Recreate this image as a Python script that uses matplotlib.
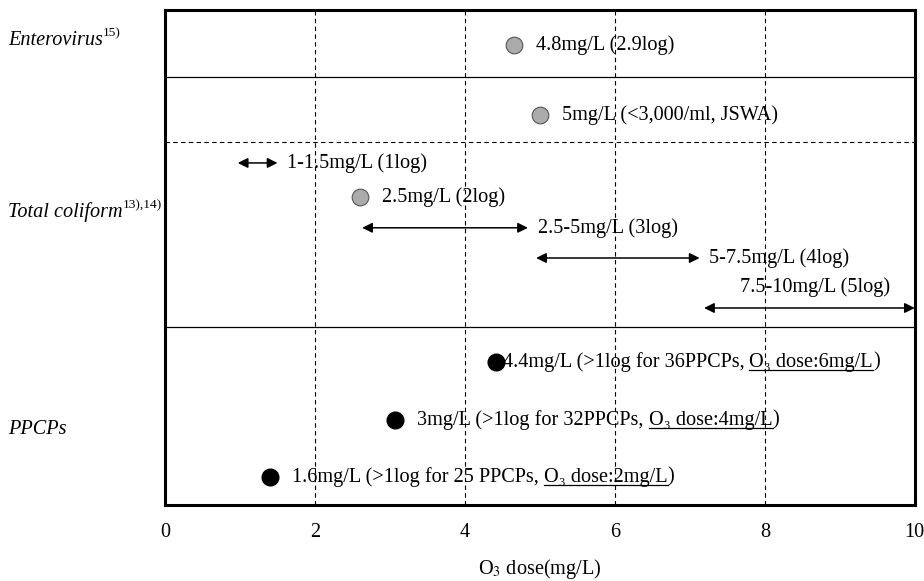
import matplotlib.pyplot as plt
import matplotlib.lines as mlines

plt.rcParams['font.family'] = ['Liberation Serif', 'DejaVu Serif']
plt.rcParams['mathtext.fontset'] = 'stix'

# dose points (x in mg/L, y = row position 0..100 from bottom)
grey_x = [4.65, 5.0, 2.6]
grey_y = [92.9, 78.8, 62.2]
grey_txt = ["4.8mg/L (2.9log)", "5mg/L (<3,000/ml, JSWA)", "2.5mg/L (2log)"]

rng_lo = [0.97, 2.63, 4.95, 7.19]
rng_hi = [1.5, 4.84, 7.13, 10.0]
rng_y = [69.1, 56.0, 49.9, 39.8]
rng_txt = ["1-1.5mg/L (1log)", "2.5-5mg/L (3log)", "5-7.5mg/L (4log)", "7.5-10mg/L (5log)"]

ppcp_x = [4.41, 3.07, 1.4]
ppcp_y = [28.9, 17.2, 5.7]
ppcp_pre = ["4.4mg/L (>1log for 36PPCPs, ", "3mg/L (>1log for 32PPCPs, ", "1.6mg/L (>1log for 25 PPCPs, "]
ppcp_ul = ["O\u2083 dose:6mg/L", "O\u2083 dose:4mg/L", "O\u2083 dose:2mg/L"]

cat_names = ["Enterovirus", "Total coliform", "PPCPs"]
cat_refs = ["15)", "13),14)", ""]
cat_y = [93.9, 59.2, 15.2]

sep_solid = [86.5, 36.0]
sep_dashed = [73.3]

fs = 14.6

fig = plt.figure(figsize=(9.24, 5.81), dpi=100)
ax = fig.add_axes([0.1786, 0.1308, 0.8114, 0.852])
ax.set_xlim(0, 10)
ax.set_ylim(0, 100)
ax.set_yticks([])
ax.set_xticks([0, 2, 4, 6, 8, 10])
ax.tick_params(axis='x', length=0, pad=13, labelsize=fs)
for s in ax.spines.values():
    s.set_linewidth(2.2)

for gx in [2, 4, 6, 8]:
    ax.axvline(gx, color='black', lw=0.8, ls=(0, (4, 3)), zorder=1)
for y in sep_solid:
    ax.axhline(y, color='black', lw=0.9, zorder=1)
for y in sep_dashed:
    ax.axhline(y, color='black', lw=0.8, ls=(0, (4, 3)), zorder=1)

# grey points
ax.plot(grey_x, grey_y, 'o', ms=12, mfc='#ababab', mec='#555555', mew=0.8, zorder=3)
for x, y, t in zip(grey_x, grey_y, grey_txt):
    ax.annotate(t, (x, y), xytext=(16, 0), textcoords='offset points',
                va='center', fontsize=fs)

# ranges
for i, (lo, hi, y, t) in enumerate(zip(rng_lo, rng_hi, rng_y, rng_txt)):
    ax.annotate('', xy=(lo, y), xytext=(hi, y),
                arrowprops=dict(arrowstyle='<|-|>,head_length=0.6,head_width=0.3',
                                color='black', lw=1.1, shrinkA=0, shrinkB=0),
                annotation_clip=False, zorder=3)
    if i == len(rng_lo) - 1:
        ax.annotate(t, ((lo + hi) / 2, y), xytext=(4, 15), textcoords='offset points',
                    ha='center', va='center', fontsize=fs)
    else:
        ax.annotate(t, (hi, y), xytext=(7, 0), textcoords='offset points',
                    va='center', fontsize=fs)

# PPCPs
ax.plot(ppcp_x, ppcp_y, 'o', ms=12, color='black', zorder=3)
ul_texts = []
for i, (x, y, pre, ul) in enumerate(zip(ppcp_x, ppcp_y, ppcp_pre, ppcp_ul)):
    off = 5 if i == 0 else 16
    t1 = ax.annotate(pre, (x, y), xytext=(off, 0), textcoords='offset points',
                     va='center', fontsize=fs)
    t2 = ax.annotate(ul, xy=(1, 0), xycoords=t1, va='bottom', fontsize=fs)
    ax.annotate(')', xy=(1, 0), xycoords=t2, va='bottom', fontsize=fs)
    ul_texts.append(t2)

# category labels
for name, ref, y in zip(cat_names, cat_refs, cat_y):
    lab = ax.annotate(name, (0, y), xycoords=('figure fraction', 'data'),
                      xytext=(6, 0), textcoords='offset points',
                      va='center', fontsize=fs, style='italic', annotation_clip=False)
    if ref:
        ax.annotate(ref, xy=(1, 0.55), xycoords=lab, va='bottom', fontsize=fs * 0.66)

ax.set_xlabel('O$_3$ dose(mg/L)', fontsize=fs, labelpad=11)

# underline the ozone dose part
fig.canvas.draw()
inv = fig.transFigure.inverted()
for t in ul_texts:
    bb = t.get_window_extent()
    (x0, y0), (x1, _) = inv.transform([(bb.x0, bb.y0 + 2), (bb.x1, bb.y0)])
    fig.add_artist(mlines.Line2D([x0, x1], [y0, y0], color='black', lw=0.9))

fig.savefig('out.png', dpi=100)
